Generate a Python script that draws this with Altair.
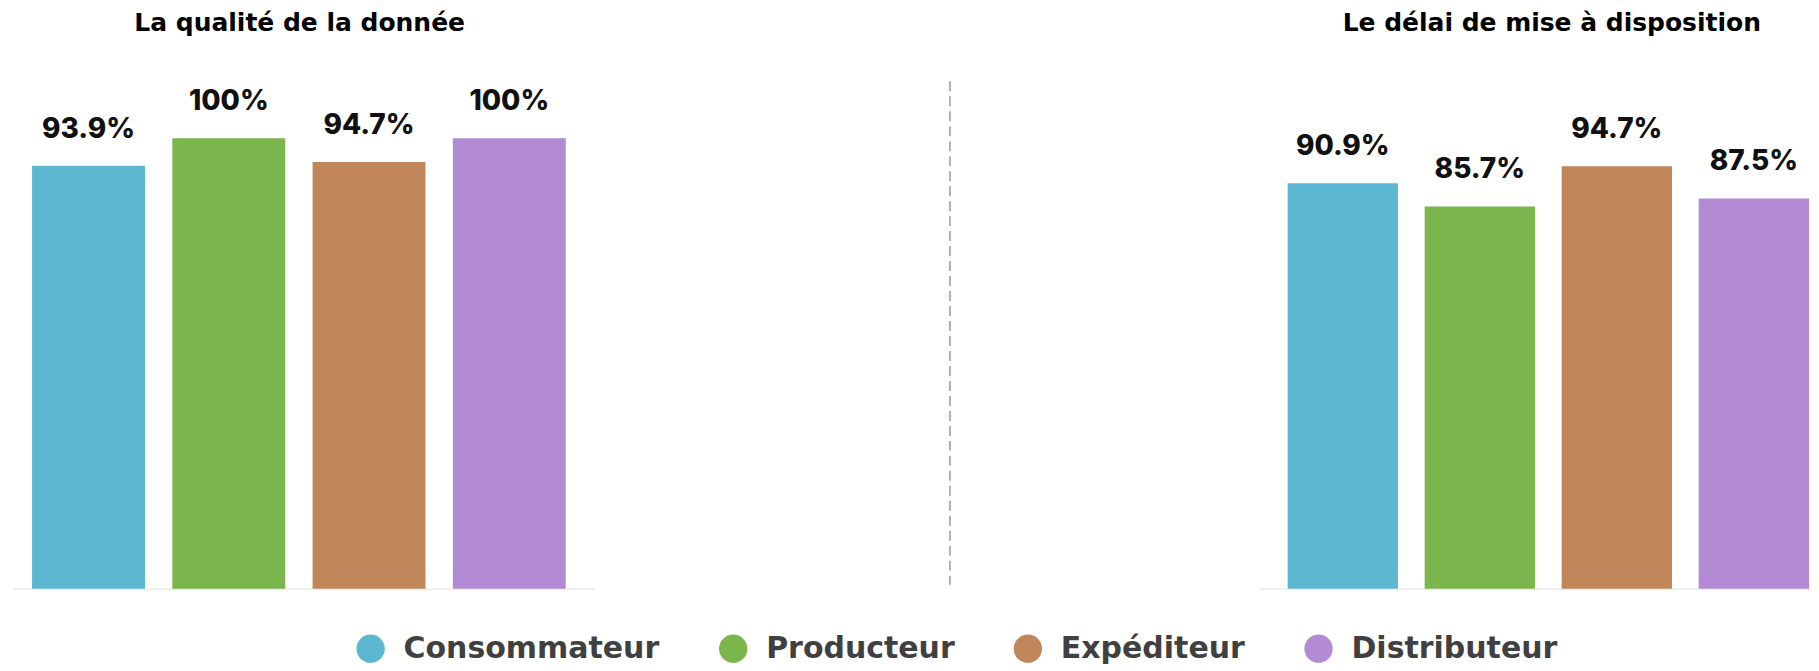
import altair as alt
import pandas as pd

categories = ["Consommateur", "Producteur", "Expéditeur", "Distributeur"]
qualite = [93.9, 100, 94.7, 100]
delai = [90.9, 85.7, 94.7, 87.5]
colors = ["#5cb8d1", "#7ab64b", "#c1875a", "#b38bd5"]
titles = ["La qualité de la donnée", "Le délai de mise à disposition"]

df_q = pd.DataFrame({"categorie": categories, "valeur": qualite})
df_d = pd.DataFrame({"categorie": categories, "valeur": delai})

color = alt.Color(
    "categorie:N",
    sort=categories,
    scale=alt.Scale(domain=categories, range=colors),
    legend=alt.Legend(
        orient="none", legendX=343, legendY=496, direction="horizontal",
        title=None, symbolType="circle", symbolSize=804, symbolStrokeWidth=0,
        symbolOpacity=1, labelFont="DejaVu Sans", labelFontSize=30,
        labelFontWeight="bold", labelColor="#404040", labelOffset=18,
        columnPadding=58, padding=0, labelLimit=500,
    ),
)


def panel(df, title, width, po, align, ymax, offset, dx):
    base = alt.Chart(df).encode(
        x=alt.X(
            "categorie:N", sort=categories,
            scale=alt.Scale(paddingInner=0.195, paddingOuter=po, align=align),
            axis=alt.Axis(labels=False, ticks=False, title=None, grid=False,
                          domainColor="#eeeeee", domainWidth=2),
        ),
        y=alt.Y("valeur:Q", scale=alt.Scale(domain=[0, ymax]), axis=None),
    )
    bars = base.mark_bar().encode(color=color)
    labels = base.transform_calculate(label="datum.valeur + '%'").mark_text(
        font="Inter", fontSize=28, fontWeight=800, color="#111",
        baseline="alphabetic", dy=-28,
    ).encode(text="label:N")
    return alt.layer(bars, labels).properties(
        width=width, height=451,
        title=alt.TitleParams(
            text=title, font="DejaVu Sans", fontSize=25, fontWeight="bold",
            color="#000", anchor="middle", frame="group", offset=offset,
            dx=dx, baseline="alphabetic",
        ),
    )


left = panel(df_q, titles[0], 582, 0.17, 0.4, 100, 32, -4)
right = panel(df_d, titles[1], 551, 0.106, 0.965, 101, 60, 17)

mid = alt.Chart(pd.DataFrame({"d": [0]})).mark_rule(
    strokeDash=[10, 5], color="#9a9a9a", strokeWidth=1.5
).encode(x=alt.value(356), y=alt.value(-57), y2=alt.value(447)).properties(
    width=666, height=451
)

chart = alt.hconcat(left, mid, right, spacing=0, bounds="flush").properties(
    padding={"left": 4, "top": 2, "right": 0, "bottom": 0}
).configure_view(stroke="transparent")

chart.save("out.html", embed_options={"renderer": "svg", "actions": False})
